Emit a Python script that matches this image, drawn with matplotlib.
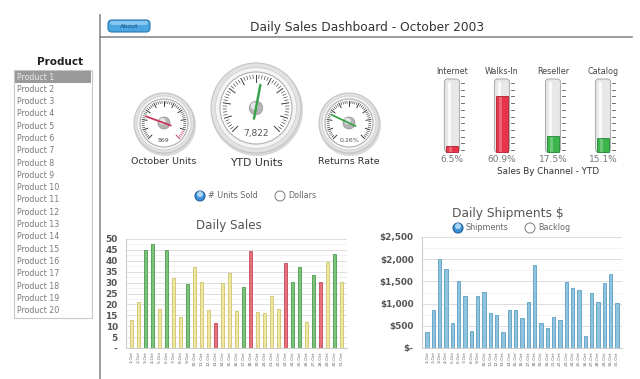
""" daily sales dashboard - october 2003 """

import numpy as np
import matplotlib.pyplot as plt
from matplotlib.patches import Circle, Rectangle, FancyBboxPatch

# --- data ---
days = [f"{d}-Oct" for d in range(1, 32)]
sales = [13, 21, 45, 47.5, 18, 45, 32, 14, 29.5, 37, 30.5, 17.5, 11.5, 30,
         34.5, 17, 28, 44.5, 16.5, 16, 24, 18, 39, 30.5, 37, 12, 33.5, 30.5,
         39.5, 43, 30.5]
sales_status = ["y", "y", "g", "g", "y", "g", "y", "y", "g", "y", "y", "y",
                "r", "y", "y", "y", "g", "r", "y", "y", "y", "y", "r", "g",
                "g", "y", "g", "r", "y", "g", "y"]
shipments = [370, 850, 2000, 1780, 560, 1500, 1160, 390, 1170, 1270, 790,
             750, 370, 860, 850, 670, 1045, 1880, 570, 445, 690, 620, 1495,
             1345, 1305, 280, 1230, 1045, 1455, 1660, 1005]

products = [f"Product {i}" for i in range(1, 21)]

gauge_labels = ["October Units", "YTD Units", "Returns Rate"]
gauge_values = [869, 7822, 0.26]
gauge_text = ["869", "7,822", "0.26%"]
gauge_max = [3600, 14500, 1.0]

channels = ["Internet", "Walks-In", "Reseller", "Catalog"]
channel_pct = [6.5, 60.9, 17.5, 15.1]
channel_max = 80

# --- figure in pixel units ---
W, H = 640, 379
fig = plt.figure(figsize=(W / 100, H / 100), dpi=100)
bg = fig.add_axes([0, 0, 1, 1])
bg.set_xlim(0, W)
bg.set_ylim(H, 0)
bg.axis("off")


def px_axes(x0, y0, x1, y1):
    return fig.add_axes([x0 / W, 1 - y1 / H, (x1 - x0) / W, (y1 - y0) / H])


# frame lines + header
bg.plot([100, 100], [15, 379], color="#8a8a8a", lw=1.2)
bg.plot([100, 632], [37, 37], color="#8a8a8a", lw=1.2)
bg.add_patch(FancyBboxPatch((108, 20), 42, 12,
                            boxstyle="round,pad=0,rounding_size=4",
                            fc="#4aa6e0", ec="#2a78b0", lw=0.8))
bg.add_patch(FancyBboxPatch((110, 21), 38, 4,
                            boxstyle="round,pad=0,rounding_size=2",
                            fc="#9fd3f4", ec="none", alpha=0.7))
bg.text(129, 26.5, "About", fontsize=4.5, color="#1b4a78",
        ha="center", va="center")
bg.text(367, 27, "Daily Sales Dashboard - October 2003", fontsize=8.8,
        color="#333333", ha="center", va="center")

# --- product list ---
bg.text(60, 62, "Product", fontsize=7.5, fontweight="bold", color="#222222",
        ha="center", va="center")
bg.add_patch(Rectangle((14, 70), 78, 248, fc="white", ec="#c8c8c8", lw=0.8))
row_h = 12.3
for i, name in enumerate(products):
    yc = 77 + i * row_h
    if i == 0:
        bg.add_patch(Rectangle((15, yc - 6), 76, 12, fc="#9a9a9a", ec="none"))
        col = "#e8e8e8"
    else:
        col = "#7a7a7a"
    bg.text(17, yc, name, fontsize=5.7, color=col, ha="left", va="center")


# --- gauges ---
def draw_gauge(cx, cy, R, value, vmax, text, label, big=False, red=False):
    bg.add_patch(Circle((cx + 1, cy + 2), R + 1, fc="#d8d8d8", ec="none"))
    bg.add_patch(Circle((cx, cy), R, fc="#e2e2e2", ec="#c4c4c4", lw=0.8))
    bg.add_patch(Circle((cx, cy), R * 0.9, fc="#f4f4f4", ec="#d0d0d0", lw=0.6))
    r = R * 0.8
    bg.add_patch(Circle((cx, cy), r, fc="white", ec="#b0b0b0", lw=0.8))
    n_major = 10
    n_sub = 5
    angs = np.linspace(225, -45, n_major * n_sub + 1)
    for k, a in enumerate(angs):
        t = np.radians(a)
        major = k % n_sub == 0
        r0 = r * (0.72 if major else 0.82)
        r1 = r * 0.92
        tc = "#c8385a" if red and a < -20 else "#3a3a3a"
        bg.plot([cx + r0 * np.cos(t), cx + r1 * np.cos(t)],
                [cy - r0 * np.sin(t), cy - r1 * np.sin(t)],
                color=tc, lw=0.7 if major else 0.45)
    frac = value / vmax
    a = np.radians(225 - 270 * frac)
    ncol = "#c8385a" if red else "#3aa24a"
    L = r * (0.65 if big else 0.8)
    tail = r * 0.3
    bg.plot([cx - tail * np.cos(a), cx + L * np.cos(a)],
            [cy + tail * np.sin(a), cy - L * np.sin(a)],
            color=ncol, lw=1.8 if big else 1.3, solid_capstyle="round")
    kr = R * (0.15 if big else 0.2)
    bg.add_patch(Circle((cx, cy), kr, fc="#b5b5b5", ec="#909090", lw=0.5))
    bg.add_patch(Circle((cx - kr * 0.25, cy - kr * 0.3), kr * 0.55,
                        fc="#e6e6e6", ec="none"))
    bg.text(cx, cy + r * 0.72, text, fontsize=6.5 if big else 4.5,
            color="#555555", ha="center", va="center")
    bg.text(cx, cy + R + (10 if big else 9), label,
            fontsize=7.8 if big else 6.8, color="#333333",
            ha="center", va="center")


gauge_pos = [(164, 123, 30, False), (256, 108, 45, True), (349, 123, 30, False)]
for i, ((cx, cy, R, big), v, vm, t, lab) in enumerate(
        zip(gauge_pos, gauge_values, gauge_max, gauge_text, gauge_labels)):
    draw_gauge(cx, cy, R, v, vm, t, lab, big, red=(i == 0))


# radio buttons
def radio(x, y, on):
    if on:
        bg.add_patch(Circle((x, y), 5, fc="#3c8fd2", ec="#24609a", lw=0.8))
        bg.add_patch(Circle((x, y - 1.8), 3, fc="#a8d6f6", ec="none"))
    else:
        bg.add_patch(Circle((x, y), 5, fc="white", ec="#8a8a8a", lw=0.8))


radio(200, 196, True)
bg.text(208, 196, "# Units Sold", fontsize=5.8, color="#666666", va="center")
radio(280, 196, False)
bg.text(288, 196, "Dollars", fontsize=5.8, color="#666666", va="center")

# --- thermometers ---
therm_x = [452, 502, 553, 603]
top, bot = 79, 152
for x, name, pct in zip(therm_x, channels, channel_pct):
    bg.add_patch(FancyBboxPatch((x - 7.5, top), 15, bot - top,
                                boxstyle="round,pad=0,rounding_size=3",
                                fc="#e8e8e8", ec="#b0b0b0", lw=0.8))
    bg.add_patch(Rectangle((x - 4, top + 3), 3, bot - top - 6,
                           fc="white", ec="none", alpha=0.8))
    h = pct / channel_max * (bot - top)
    col, dark = ("#e8344a", "#b0202e") if name in ("Internet", "Walks-In") \
        else ("#3cb54a", "#22863a")
    bg.add_patch(Rectangle((x - 6, bot - h), 12, h, fc=col, ec=dark, lw=0.6))
    bg.add_patch(Rectangle((x - 3, bot - h + 1), 3, h - 1, fc="white",
                           ec="none", alpha=0.25))
    for ty in np.linspace(bot - 2, top + 4, 11):
        bg.plot([x + 8.5, x + 11.5], [ty, ty], color="#555555", lw=0.6)
    bg.text(x, top - 7, name, fontsize=5.8, color="#444444",
            ha="center", va="center")
    bg.text(x, bot + 8, f"{pct}%", fontsize=6.5, color="#777777",
            ha="center", va="center")
bg.text(548, 172, "Sales By Channel - YTD", fontsize=6.3, color="#333333",
        ha="center", va="center")

# --- daily sales bars ---
status_colors = {"g": ("#7cc47a", "#4f9a4e"),
                 "y": ("#efe7a0", "#cfc470"),
                 "r": ("#e8707e", "#c04a58")}
ax1 = px_axes(126, 239, 347, 348)
xs = np.arange(len(days))
ax1.bar(xs, sales, width=0.5,
        color=[status_colors[s][0] for s in sales_status],
        edgecolor=[status_colors[s][1] for s in sales_status], lw=0.6,
        zorder=3)
ax1.set_ylim(0, 50)
ax1.set_xlim(-0.8, len(days) - 0.2)
ax1.set_yticks(np.arange(0, 51, 5))
ax1.set_yticklabels(["-"] + [str(v) for v in range(5, 51, 5)])
bg.text(229, 225, "Daily Sales", fontsize=8.6, color="#555555",
        ha="center", va="center")

# --- daily shipments bars ---
ax2 = px_axes(422, 237, 622, 348)
ax2.bar(xs, shipments, width=0.5, color="#8ec4dd", edgecolor="#5b9fc2",
        lw=0.6, zorder=3)
ax2.set_ylim(0, 2500)
ax2.set_xlim(-0.8, len(days) - 0.2)
ax2.set_yticks(np.arange(0, 2501, 500))
ax2.set_yticklabels(["$-", "$500", "$1,000", "$1,500", "$2,000", "$2,500"])
bg.text(508, 214, "Daily Shipments $", fontsize=8.8, color="#555555",
        ha="center", va="center")
radio(458, 228, True)
bg.text(466, 228, "Shipments", fontsize=5.8, color="#666666", va="center")
radio(530, 228, False)
bg.text(538, 228, "Backlog", fontsize=5.8, color="#666666", va="center")

for ax, step in ((ax1, 2.5), (ax2, 250)):
    ax.set_xticks(xs)
    ax.set_xticklabels(days, rotation=90, fontsize=3.2, color="#666666")
    ax.set_yticks(np.arange(0, ax.get_ylim()[1] + 1, step), minor=True)
    ax.grid(axis="y", which="major", color="#d8d8d8", lw=0.6, zorder=0)
    ax.grid(axis="y", which="minor", color="#eeeeee", lw=0.5, zorder=0)
    ax.tick_params(axis="y", which="both", length=0, labelsize=6.4,
                   labelcolor="#555555", pad=6)
    ax.tick_params(axis="x", length=0, pad=2)
    for lab in ax.get_yticklabels():
        lab.set_fontweight("bold")
    for side in ("top", "right"):
        ax.spines[side].set_visible(False)
    for side in ("left", "bottom"):
        ax.spines[side].set_color("#cccccc")
        ax.spines[side].set_linewidth(0.8)

fig.savefig("out.png", dpi=100)
